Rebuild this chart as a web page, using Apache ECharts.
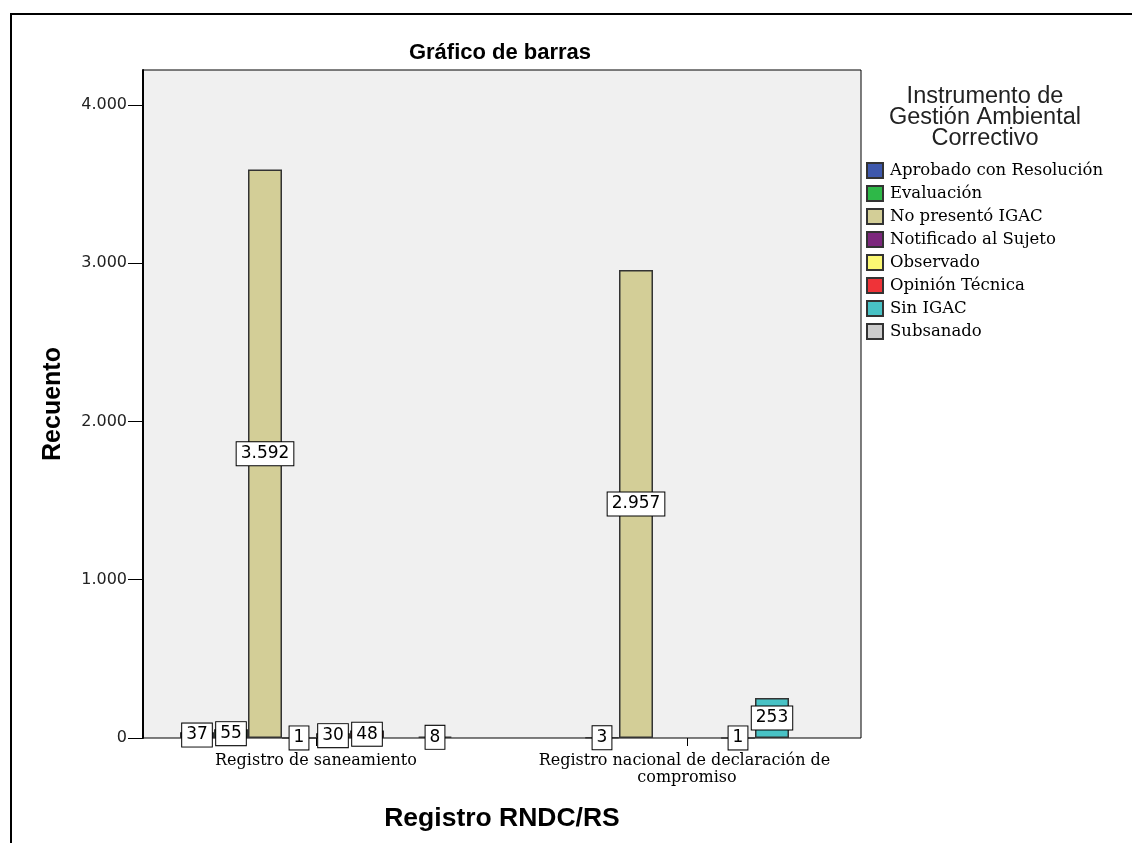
<!DOCTYPE html>
<html>
<head>
<meta charset="utf-8">
<script src="https://cdn.jsdelivr.net/npm/echarts@6/dist/echarts.min.js"></script>
<style>
  html, body { margin: 0; padding: 0; background: #fff; }
  #frame { position: absolute; left: 10px; top: 13px; width: 1122px; height: 830px; border-left: 2px solid #000; border-top: 2px solid #000; box-sizing: border-box; }
  #chart { position: absolute; left: 0; top: 0; width: 1132px; height: 843px; }
</style>
</head>
<body>
<div id="frame"></div>
<div id="chart"></div>
<script>
// ---- data ----
var categories = ['Registro de saneamiento', 'Registro nacional de declaración de compromiso'];
var seriesNames = ['Aprobado con Resolución', 'Evaluación', 'No presentó IGAC', 'Notificado al Sujeto', 'Observado', 'Opinión Técnica', 'Sin IGAC', 'Subsanado'];
var aprobado    = [37, null];
var evaluacion  = [55, 3];
var noPresento  = [3592, 2957];
var notificado  = [1, null];
var observado   = [30, null];
var opinion     = [48, 1];
var sinIgac     = [null, 253];
var subsanado   = [8, null];
var yTicks = [0, 1000, 2000, 3000, 4000];
var colors = ['#3e58ac', '#2eb848', '#d3ce97', '#7c287d', '#fbf873', '#ef3338', '#48c2c5', '#cccccc'];

var allValues = [aprobado, evaluacion, noPresento, notificado, observado, opinion, sinIgac, subsanado];

function fmt(v) {
  return String(v).replace(/\B(?=(\d{3})+(?!\d))/g, '.');
}

var chart = echarts.init(document.getElementById('chart'));
var yMax = 4221;

var series = allValues.map(function (vals, i) {
  return {
    name: seriesNames[i],
    type: 'bar',
    xAxisIndex: 1,
    yAxisIndex: 1,
    data: vals,
    barWidth: 34,
    barGap: '0%',
    itemStyle: { color: colors[i], borderColor: '#333', borderWidth: 1.5 },
    label: {
      show: true,
      position: 'inside',
      formatter: function (p) { return fmt(p.value); },
      fontFamily: 'DejaVu Sans',
      fontSize: 17,
      color: '#000',
      backgroundColor: '#fff',
      borderColor: '#000',
      borderWidth: 1,
      padding: [2, 4, 1, 4],
      lineHeight: 20
    }
  };
});

var option = {
  animation: false,
  title: [
    {
      text: 'Gráfico de barras',
      left: 500, top: 42, textAlign: 'center', padding: 0,
      textStyle: { fontFamily: 'Liberation Sans', fontWeight: 'bold', fontSize: 22, color: '#000' }
    },
    {
      text: 'Instrumento de\nGestión Ambiental\nCorrectivo',
      left: 985, top: 86, textAlign: 'center', padding: 0,
      textStyle: { fontFamily: 'Liberation Sans', fontWeight: 'normal', fontSize: 23.5, lineHeight: 21, color: '#222' }
    }
  ],
  legend: {
    data: seriesNames,
    orient: 'vertical',
    left: 866, top: 162, padding: 0,
    itemWidth: 16, itemHeight: 15, itemGap: 6,
    icon: 'rect',
    selectedMode: false,
    textStyle: { fontFamily: 'DejaVu Serif', fontSize: 16.5, color: '#000', padding: [0, 0, 0, 2] }
  },
  grid: [
    { left: 143, right: 271, top: 70, bottom: 105, show: true, backgroundColor: '#f0f0f0', borderColor: '#000', borderWidth: 1 },
    { left: 130.5, width: 742, top: 70, bottom: 105 }
  ],
  xAxis: [
    {
      type: 'value', gridIndex: 0, min: 0, max: 1,
      axisLine: { show: false }, axisTick: { show: false }, axisLabel: { show: false }, splitLine: { show: false },
      name: 'Registro RNDC/RS', nameLocation: 'middle', nameGap: 67,
      nameTextStyle: { fontFamily: 'Liberation Sans', fontWeight: 'bold', fontSize: 26.5, color: '#000' }
    },
    {
      type: 'category', gridIndex: 1, data: categories,
      axisLine: { show: false },
      axisTick: { show: true, alignWithLabel: true, length: 8, lineStyle: { color: '#000', width: 1 } },
      axisLabel: {
        fontFamily: 'DejaVu Serif', fontSize: 16, color: '#000', margin: 14, lineHeight: 17,
        width: 320, overflow: 'break', interval: 0
      }
    }
  ],
  yAxis: [
    {
      type: 'value', gridIndex: 0, min: 0, max: yMax,
      axisLine: { show: true, lineStyle: { color: '#000', width: 2 } },
      axisTick: { show: true, length: 15, customValues: yTicks, lineStyle: { color: '#000', width: 1 } },
      axisLabel: {
        customValues: yTicks, margin: 16,
        formatter: function (v) { return fmt(v); },
        fontFamily: 'DejaVu Sans', fontSize: 16, color: '#222'
      },
      splitLine: { show: false },
      name: 'Recuento', nameLocation: 'middle', nameGap: 77,
      nameTextStyle: { fontFamily: 'Liberation Sans', fontWeight: 'bold', fontSize: 25, color: '#000' }
    },
    {
      type: 'value', gridIndex: 1, min: 0, max: yMax, show: false
    }
  ],
  series: series
};
chart.setOption(option);
</script>
</body>
</html>
